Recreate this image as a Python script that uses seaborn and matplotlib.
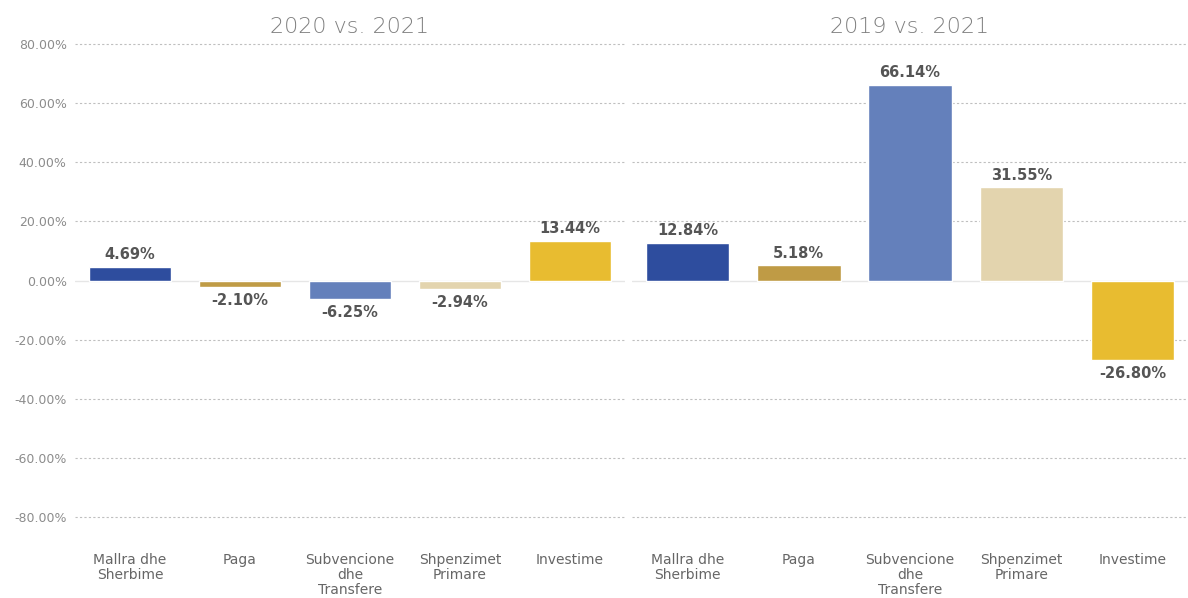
import pandas as pd
import seaborn as sns
import matplotlib.pyplot as plt
from matplotlib.ticker import FuncFormatter

# data
kategorite = ["Mallra dhe\nSherbime", "Paga", "Subvencione\ndhe\nTransfere",
              "Shpenzimet\nPrimare", "Investime"]
titujt = ["2020 vs. 2021", "2019 vs. 2021"]
ndryshimi_2020_2021 = [4.69, -2.10, -6.25, -2.94, 13.44]
ndryshimi_2019_2021 = [12.84, 5.18, 66.14, 31.55, -26.80]
ngjyrat = ["#2E4D9E", "#BF9B45", "#6480BB", "#E3D4AE", "#E8BC30"]

sns.set_theme(style="white")
plt.rcParams["font.family"] = ["DejaVu Sans"]

fig = plt.figure(figsize=(11.88, 5.98), dpi=100)
W, H = 1188, 598
ax1 = fig.add_axes([75 / W, 1 - 547 / H, 550 / W, (547 - 29) / H])
ax2 = fig.add_axes([632 / W, 1 - 547 / H, 556 / W, (547 - 29) / H])

for ax, titull, vlerat in zip([ax1, ax2], titujt, [ndryshimi_2020_2021, ndryshimi_2019_2021]):
    df = pd.DataFrame({"kategoria": kategorite, "vlera": vlerat})
    sns.barplot(data=df, x="kategoria", y="vlera", hue="kategoria",
                palette=ngjyrat, dodge=False, legend=False, width=0.75,
                saturation=1, ax=ax)
    ax.set_ylim(-90, 85)
    ax.set_xlim(-0.5, 4.5)
    for y in range(-80, 81, 20):
        if y == 0:
            ax.axhline(0, color="#E6E6E6", lw=1, zorder=0)
        else:
            ax.axhline(y, color="#BFBFBF", lw=0.8, ls=(0, (2, 2)), zorder=0)
    for i, v in enumerate(vlerat):
        if v >= 0:
            ax.text(i, v + 1.5, f"{v:.2f}%", ha="center", va="bottom",
                    fontsize=10.5, fontweight="bold", color="#555555")
        else:
            ax.text(i, v - 2, f"{v:.2f}%", ha="center", va="top",
                    fontsize=10.5, fontweight="bold", color="#555555")
    ax.set_title(titull, fontsize=16, color="#7F7F7F", pad=-3,
                 fontweight="light")
    ax.set_xlabel("")
    ax.set_ylabel("")
    ax.tick_params(axis="x", length=0, labelsize=10, labelcolor="#666666", pad=4)
    for lbl in ax.get_xticklabels():
        lbl.set_linespacing(1.1)
    for s in ax.spines.values():
        s.set_visible(False)

ax1.set_yticks(range(-80, 81, 20))
ax1.yaxis.set_major_formatter(FuncFormatter(lambda v, p: f"{v:.2f}%"))
ax1.tick_params(axis="y", length=0, labelsize=9, labelcolor="#8C8C8C", pad=6)
ax2.set_yticks([])

fig.savefig("out.png", dpi=100)
